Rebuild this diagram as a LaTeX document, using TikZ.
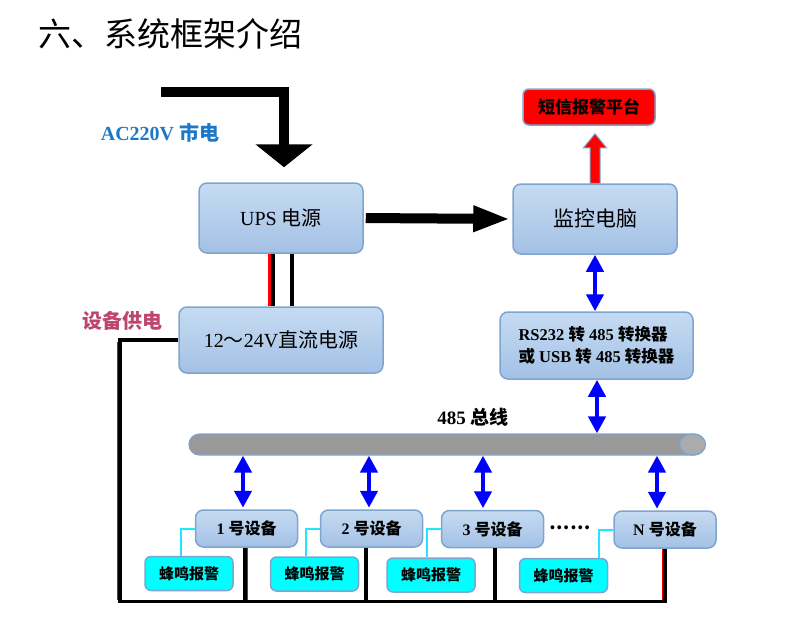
\documentclass[tikz,border=0pt]{standalone}
\usepackage{fontspec}
\setmainfont{Liberation Serif}
\newfontfamily\cjk{Noto Sans CJK SC}
\usetikzlibrary{arrows.meta,calc}
\definecolor{boxtop}{HTML}{C6DBF2}
\definecolor{boxbot}{HTML}{A3C1E5}
\definecolor{boxedge}{HTML}{7FA4CF}
\definecolor{acblue}{HTML}{1E78C8}
\definecolor{supply}{RGB}{190,70,110}
\definecolor{busgrey}{HTML}{999999}
\definecolor{busend}{HTML}{ABABAB}
\definecolor{sigcyan}{HTML}{22E6FF}
\definecolor{buzzfill}{HTML}{00FFFF}
\tikzset{
 box/.style={draw=boxedge, line width=1.5pt, rounded corners=8pt, top color=boxtop, bottom color=boxbot, inner sep=0pt, align=center},
 smsbox/.style={draw=boxedge, line width=1.5pt, rounded corners=6pt, fill=red, inner sep=0pt},
 buzz/.style={draw=boxedge, line width=1.5pt, rounded corners=6pt, fill=buzzfill, minimum width=88pt, minimum height=34pt, inner sep=0pt, font=\fontsize{15}{18}\selectfont\bfseries\cjk},
 dev/.style={box, minimum width=102pt, minimum height=37pt, font=\fontsize{16}{19}\selectfont\bfseries},
 busshape/.style={draw=boxedge, line width=1.2pt, fill=busgrey, rounded corners=10.5pt, inner sep=0pt},
 dbl/.style={blue, line width=4.5pt, {Triangle[width=17pt,length=17pt]}-{Triangle[width=17pt,length=17pt]}},
 pwr/.style={black, line width=3.5pt},
 redw/.style={red, line width=1pt},
 sig/.style={sigcyan, line width=2pt},
}
\begin{document}
\begin{tikzpicture}[x=1pt,y=-1pt]
\useasboundingbox (0,0) rectangle (800,643);
% title and labels
\node[anchor=west, font=\fontsize{33}{38}\selectfont\cjk] (title) at (35,34) {六、系统框架介绍};
\node[font=\fontsize{20}{24}\selectfont\bfseries, text=acblue] (ac) at (160,133) {AC220V {\cjk 市电}};
\node[font=\fontsize{20}{24}\selectfont\bfseries\cjk, text=supply] (sup) at (122,321) {设备供电};
\node[font=\fontsize{19}{22}\selectfont\bfseries] (buslabel) at (473,417) {485 {\cjk 总线}};
% boxes
\node[box, minimum width=164pt, minimum height=70pt, font=\fontsize{20}{24}\selectfont] (ups) at (281,218) {UPS {\cjk 电源}};
\node[box, minimum width=164pt, minimum height=70pt, font=\fontsize{21}{24}\selectfont\cjk] (pc) at (595,219) {监控电脑};
\node[smsbox, minimum width=132pt, minimum height=36pt, font=\fontsize{17}{20}\selectfont\bfseries\cjk] (sms) at (589,107) {短信报警平台};
\node[box, minimum width=204pt, minimum height=66pt, font=\fontsize{20}{24}\selectfont] (dc) at (281,340) {12{\cjk ～}24V{\cjk 直流电源}};
\node[box, minimum width=193pt, minimum height=67pt, align=left, font=\fontsize{16.5}{22}\selectfont\bfseries] (conv) at (596.5,345.5) {RS232 {\cjk 转} 485 {\cjk 转换器}\\{\cjk 或} USB {\cjk 转} 485 {\cjk 转换器}};
\node[busshape, minimum width=516pt, minimum height=21pt] (bus) at (447,444.5) {};
\draw[draw=boxedge, line width=1.2pt, fill=busend] ([xshift=-13pt]bus.east) ellipse [x radius=13pt, y radius=10.5pt];
\node[dev] (d1) at (246.5,528.5) {1 {\cjk 号设备}};
\node[dev] (d2) at (371.5,528.5) {2 {\cjk 号设备}};
\node[dev] (d3) at (492.5,529) {3 {\cjk 号设备}};
\node[dev] (dN) at (665,529.5) {N {\cjk 号设备}};
\node[font=\fontsize{18}{20}\selectfont\bfseries\cjk] (dots) at (570,528) {……};
\node[buzz] (b1) at (189,573.5) {蜂鸣报警};
\node[buzz] (b2) at (314.5,574) {蜂鸣报警};
\node[buzz] (b3) at (431,575) {蜂鸣报警};
\node[buzz] (bN) at (563.5,575.5) {蜂鸣报警};
% AC input arrow
\coordinate (acin) at (161,92);
\coordinate (upsin) at ([xshift=3pt]ups.north);
\draw[line width=10pt, line join=miter, -{Triangle[width=56pt,length=23pt]}, shorten >=15pt] (acin) -| (upsin);
% UPS -> PC
\draw[line width=10pt, -{Triangle[width=24pt,length=37pt]}, shorten >=2pt, shorten <=2pt] (ups.east) -- (pc.west);
% PC -> SMS red arrow
\filldraw[fill=red, draw=boxedge, line width=1pt] let \p1=(pc.north), \p2=(sms.south) in
 (\x1-5pt,\y1) -- (\x1-5pt,\y2-22pt) -- (\x1-11.5pt,\y2-22pt) -- (\x1,\y2-8pt) -- (\x1+11.5pt,\y2-22pt) -- (\x1+5pt,\y2-22pt) -- (\x1+5pt,\y1) -- cycle;
% blue data arrows
\draw[dbl] (pc.south) -- (pc.south |- conv.north);
\coordinate (cv) at ([xshift=0.5pt]conv.south);
\draw[dbl] (cv) -- (cv |- bus.north);
\coordinate (t1) at ([xshift=-3.5pt]d1.north);
\coordinate (t2) at ([xshift=-2.5pt]d2.north);
\coordinate (t3) at ([xshift=-9.5pt]d3.north);
\coordinate (tN) at ([xshift=-8pt]dN.north);
\foreach \tp in {t1,t2,t3,tN} { \draw[dbl, shorten >=1.5pt] (\tp |- bus.south) -- (\tp); }
% UPS -> DC power wires
\coordinate (u0) at ([xshift=-11.5pt]ups.south);
\coordinate (u1) at ([xshift=-8pt]ups.south);
\coordinate (u2) at ([xshift=11pt]ups.south);
\draw[red, line width=3pt] (u0) -- (u0 |- dc.north);
\draw[black, line width=4pt] (u1) -- (u1 |- dc.north);
\draw[black, line width=4.5pt] (u2) -- (u2 |- dc.north);
% supply loop
\coordinate (bl) at (120,601.5);
\coordinate (p1) at ([xshift=-1.5pt]d1.south);
\coordinate (p2) at ([xshift=-5.5pt]d2.south);
\coordinate (p3) at ([xshift=2.5pt]d3.south);
\draw[pwr, line join=miter] (dc.west) -| (bl) -| (dN.south);
\foreach \pp in {p1,p2,p3} { \draw[pwr] (\pp) -- (\pp |- bl); }
\coordinate (rl) at (117.8,342);
\coordinate (rb) at (117.8,600);
\draw[redw] (rl) -- (rb);
\coordinate (rN) at ([xshift=-2.3pt]dN.south);
\draw[redw] (rN) -- (rN |- rb);
\coordinate (r1) at ([xshift=0.8pt]d1.south);
\draw[redw] (r1) -- (r1 |- rb);
% alarm signal lines
\coordinate (k1) at ([xshift=-14pt]d1.west);
\coordinate (k2) at ([xshift=-14pt]d2.west);
\coordinate (k3) at ([xshift=-14pt]d3.west);
\coordinate (kN) at ([xshift=-14pt]dN.west);
\draw[sig] (d1.west) -- (k1) -- (k1 |- b1.north);
\draw[sig] (d2.west) -- (k2) -- (k2 |- b2.north);
\draw[sig] (d3.west) -- (k3) -- (k3 |- b3.north);
\draw[sig] (dN.west) -- (kN) -- (kN |- bN.north);
\end{tikzpicture}
\end{document}
